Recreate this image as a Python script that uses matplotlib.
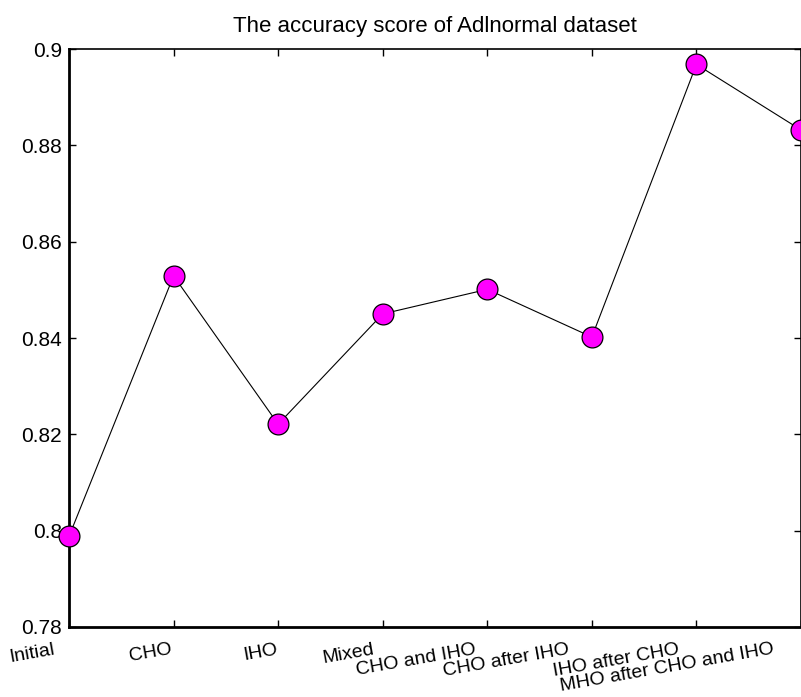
import numpy as np
import matplotlib
matplotlib.use("Agg")
import matplotlib.pyplot as plt
from matplotlib.ticker import FuncFormatter

methods = ["Initial", "CHO", "IHO", "Mixed", "CHO and IHO", "CHO after IHO",
           "IHO after CHO", "MHO after CHO and IHO"]
accuracy = [0.7988, 0.8529, 0.8221, 0.8450, 0.8501, 0.8402, 0.8968, 0.8832]
y_ticks = [0.78, 0.80, 0.82, 0.84, 0.86, 0.88, 0.90]

# horizontal shift (px) of each rotated tick label, as in the original figure
label_shift = [-16, -3, -2, -10, -13, -24, -19, -29]

plt.rcParams.update({"font.family": ["Liberation Sans", "DejaVu Sans"]})

fig = plt.figure(figsize=(8.01, 6.97), dpi=100)
ax = fig.add_axes([69 / 801, 1 - 627 / 697, 732 / 801, 578 / 697])

x = np.arange(len(methods))
ax.plot(x, accuracy, color="black", linewidth=0.8, marker="o", markersize=15,
        markerfacecolor="magenta", markeredgecolor="black", markeredgewidth=0.9,
        zorder=3, clip_on=False)

ax.set_xlim(0, len(methods) - 1)
ax.set_ylim(0.78, 0.90)
ax.set_yticks(y_ticks)
ax.yaxis.set_major_formatter(FuncFormatter(lambda v, p: "%g" % round(v, 2)))
ax.set_xticks(x)
ax.set_xticklabels([])

# rotated x labels, drawn by hand like MATLAB's rotateticklabel
for xi, name, dx in zip(x, methods, label_shift):
    ax.annotate(name, xy=(xi, 0), xycoords=("data", "axes fraction"),
                xytext=(dx, -14), textcoords="offset pixels",
                rotation=10, rotation_mode="anchor", ha="right", va="top",
                fontsize=14, annotation_clip=False)

ax.tick_params(axis="both", direction="in", length=5, width=1, top=True,
               right=True, color="black")
ax.tick_params(axis="y", pad=5, labelsize=15)

for side in ["left", "bottom"]:
    ax.spines[side].set_linewidth(2)
for side in ["top", "right"]:
    ax.spines[side].set_linewidth(1.2)

ax.set_title("The accuracy score of Adlnormal dataset", fontsize=16, pad=12)

fig.savefig("out.png", dpi=100)
